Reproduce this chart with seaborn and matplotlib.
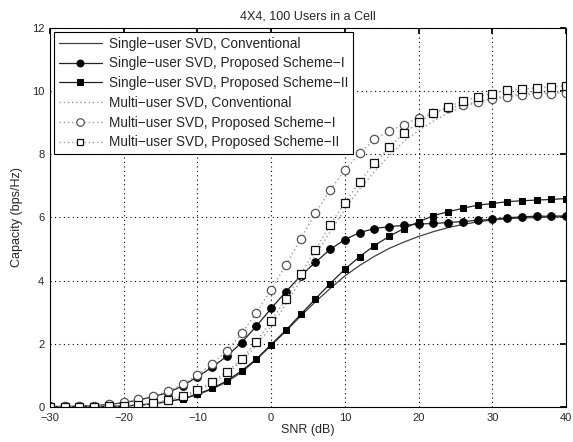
import matplotlib
matplotlib.use("Agg")
import matplotlib.pyplot as plt
import seaborn as sns

snr = [-30, -28, -26, -24, -22, -20, -18, -16, -14, -12, -10, -8, -6, -4, -2, 0,
       2, 4, 6, 8, 10, 12, 14, 16, 18, 20, 22, 24, 26, 28, 30, 32, 34, 36, 38, 40]

su_conv = [0.0, 0.0, 0.01, 0.01, 0.02, 0.03, 0.06, 0.10, 0.17, 0.26, 0.39, 0.57, 0.80, 1.10, 1.50, 1.95,
           2.40, 2.88, 3.33, 3.75, 4.15, 4.48, 4.77, 5.02, 5.22, 5.40, 5.55, 5.68, 5.78, 5.86, 5.92, 5.96, 5.98, 6.00, 6.01, 6.02]
su_s1 = [0.02, 0.02, 0.03, 0.05, 0.08, 0.14, 0.22, 0.33, 0.46, 0.67, 0.96, 1.26, 1.61, 2.04, 2.56, 3.12,
         3.65, 4.15, 4.58, 4.99, 5.30, 5.52, 5.65, 5.71, 5.75, 5.79, 5.81, 5.84, 5.87, 5.91, 5.94, 5.99, 6.02, 6.04, 6.04, 6.05]
su_s2 = [0.0, 0.0, 0.0, 0.01, 0.02, 0.03, 0.07, 0.10, 0.19, 0.26, 0.41, 0.59, 0.83, 1.15, 1.52, 1.98,
         2.43, 2.93, 3.42, 3.91, 4.36, 4.76, 5.11, 5.40, 5.65, 5.86, 6.06, 6.18, 6.29, 6.39, 6.44, 6.50, 6.53, 6.55, 6.57, 6.60]
mu_conv = [0.0, 0.0, 0.0, 0.01, 0.02, 0.03, 0.06, 0.11, 0.19, 0.31, 0.50, 0.74, 1.05, 1.45, 1.95, 2.55,
           3.25, 4.00, 4.80, 5.55, 6.25, 6.90, 7.45, 7.95, 8.40, 8.75, 9.05, 9.30, 9.50, 9.65, 9.77, 9.85, 9.90, 9.94, 9.96, 9.98]
mu_s1 = [0.01, 0.02, 0.03, 0.05, 0.09, 0.15, 0.24, 0.35, 0.50, 0.72, 1.02, 1.37, 1.78, 2.33, 2.98, 3.72,
         4.49, 5.32, 6.13, 6.87, 7.50, 8.03, 8.47, 8.73, 8.94, 9.16, 9.30, 9.45, 9.56, 9.66, 9.75, 9.82, 9.87, 9.90, 9.92, 9.95]
mu_s2 = [0.0, 0.0, 0.01, 0.01, 0.02, 0.04, 0.08, 0.13, 0.22, 0.35, 0.55, 0.80, 1.12, 1.52, 2.07, 2.72,
         3.41, 4.20, 4.97, 5.76, 6.47, 7.13, 7.71, 8.22, 8.66, 9.01, 9.31, 9.50, 9.68, 9.82, 9.92, 10.03, 10.06, 10.10, 10.14, 10.16]

labels = ["Single\u2212user SVD, Conventional",
          "Single\u2212user SVD, Proposed Scheme\u2212I",
          "Single\u2212user SVD, Proposed Scheme\u2212II",
          "Multi\u2212user SVD, Conventional",
          "Multi\u2212user SVD, Proposed Scheme\u2212I",
          "Multi\u2212user SVD, Proposed Scheme\u2212II"]
title = "4X4, 100 Users in a Cell"
xlabel = "SNR (dB)"
ylabel = "Capacity (bps/Hz)"
xticks = [-30, -20, -10, 0, 10, 20, 30, 40]
yticks = [0, 2, 4, 6, 8, 10, 12]

sns.set_theme(style="white")
plt.rcParams['font.family'] = ['Liberation Sans', 'DejaVu Sans']

fig = plt.figure(figsize=(5.73, 4.42), dpi=100)
ax = fig.add_axes([0.087, 0.079, 0.901, 0.858])

styles = [
    dict(y=su_conv, color="#404040", linestyle="-", lw=0.9),
    dict(y=su_s1, color="#222222", linestyle="-", lw=0.9, marker="o", markersize=5.5,
         markerfacecolor="black", markeredgecolor="black"),
    dict(y=su_s2, color="#222222", linestyle="-", lw=0.9, marker="s", markersize=4.8,
         markerfacecolor="black", markeredgecolor="black"),
    dict(y=mu_conv, color="#9a9a9a", linestyle=(0, (1, 2)), lw=1.0),
    dict(y=mu_s1, color="#9a9a9a", linestyle=(0, (1, 2)), lw=1.0, marker="o", markersize=6,
         markerfacecolor="white", markeredgecolor="#555555", markeredgewidth=0.9),
    dict(y=mu_s2, color="#9a9a9a", linestyle=(0, (1, 2)), lw=1.0, marker="s", markersize=5.2,
         markerfacecolor="white", markeredgecolor="#111111", markeredgewidth=0.9),
]

for lab, st in zip(labels, styles):
    st = dict(st)
    yv = st.pop("y")
    sns.lineplot(x=snr, y=yv, ax=ax, label=lab, **st)

ax.set_xlim(-30, 40)
ax.set_ylim(0, 12)
ax.set_xticks(xticks)
ax.set_yticks(yticks)
ax.tick_params(axis="both", direction="in", top=True, right=True, length=4,
               labelsize=8, color="black")
ax.tick_params(axis="x", pad=4)
ax.tick_params(axis="y", pad=4)
ax.grid(True, color="black", linestyle=(0, (1, 3)), lw=0.8)
for sp in ax.spines.values():
    sp.set_color("black")
    sp.set_linewidth(0.8)
ax.set_title(title, fontsize=9, pad=6)
ax.set_xlabel(xlabel, fontsize=9, labelpad=1)
ax.set_ylabel(ylabel, fontsize=9, labelpad=6)

leg = ax.legend(loc="upper left", fontsize=9.8, frameon=True, fancybox=False,
                edgecolor="black", handlelength=3.2, borderaxespad=0.3,
                labelspacing=0.42, borderpad=0.35, handletextpad=0.5, markerscale=0.9)
leg.get_frame().set_linewidth(0.8)
leg.get_frame().set_alpha(1)

fig.savefig("out.png", dpi=100)
